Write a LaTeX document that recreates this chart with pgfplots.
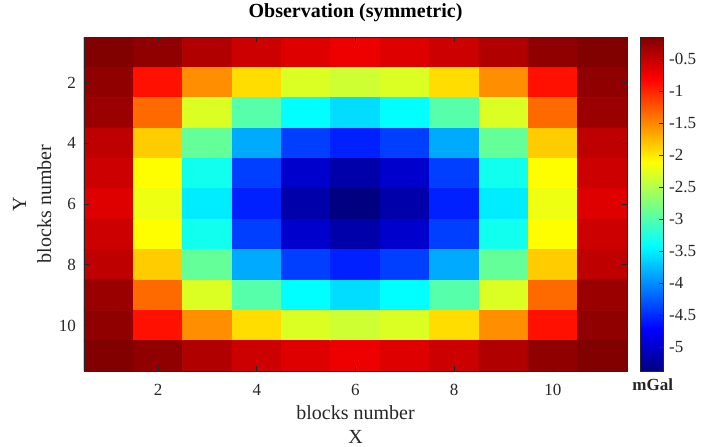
\documentclass[border=0pt]{standalone}
\usepackage{fontspec}
\setmainfont{Liberation Serif}
\usepackage{pgfplots}
\pgfplotsset{compat=1.18}
\definecolor{axgray}{gray}{0.15}

\begin{document}
\begin{tikzpicture}
% fixed page frame around the axis box (axis south west corner at the origin)
\useasboundingbox (-42pt,-37.5pt) rectangle (317pt,185.5pt);
\begin{axis}[
  at={(0,0)}, anchor=south west,
  scale only axis,
  width=271.5pt, height=167pt,
  xmin=0.5, xmax=11.5, ymin=0.5, ymax=11.5,
  enlargelimits=false,
  y dir=reverse,
  axis on top,
  axis line style={axgray, line width=0.4pt},
  tick align=inside,
  major tick length=2.5pt,
  tick style={axgray, line width=0.4pt},
  xtick={2,4,6,8,10}, ytick={2,4,6,8,10},
  xticklabels={2,4,6,8,10}, yticklabels={2,4,6,8,10},
  ticklabel style={font=\fontsize{8.5}{10}\selectfont, text=axgray},
  xticklabel style={yshift=-3pt},
  yticklabel style={xshift=-0.5pt},
  title={Observation (symmetric)},
  title style={font=\bfseries\fontsize{10}{12}\selectfont, yshift=-2pt},
  xlabel={blocks number\\X},
  xlabel style={align=center, font=\fontsize{10}{12}\selectfont, text=axgray, yshift=2pt},
  ylabel={Y\\blocks number},
  ylabel style={align=center, font=\fontsize{10}{12.5}\selectfont, text=axgray, yshift=-3pt},
  colormap/jet,
  point meta min=-5.375, point meta max=-0.156,
  colorbar,
  colorbar style={
    at={(parent axis.north east)}, anchor=north west, xshift=-2pt,
    scale only axis,
    width=11.5pt, height=167pt,
    ytick={-5,-4.5,-4,-3.5,-3,-2.5,-2,-1.5,-1,-0.5},
    yticklabels={-5,-4.5,-4,-3.5,-3,-2.5,-2,-1.5,-1,-0.5},
    yticklabel style={font=\fontsize{8.5}{10}\selectfont, text=axgray, xshift=-0.5pt},
    ytick pos=right,
    tick align=inside,
    major tick length=2pt,
    axis line style={axgray, line width=0.4pt},
    tick style={axgray, line width=0.4pt},
    extra description/.code={
      \node[anchor=center, font=\bfseries\fontsize{8.5}{10}\selectfont, text=axgray]
        at (0.55,-0.04) {mGal};
    },
  },
]
\addplot [matrix plot*, shader=flat corner, mesh/cols=11, mesh/ordering=x varies,
  point meta=explicit] table [meta=c] {
x y c
1 1 -0.16
2 1 -0.24
3 1 -0.40
4 1 -0.55
5 1 -0.64
6 1 -0.72
7 1 -0.64
8 1 -0.55
9 1 -0.40
10 1 -0.24
11 1 -0.16
1 2 -0.24
2 2 -0.89
3 2 -1.54
4 2 -1.94
5 2 -2.29
6 2 -2.37
7 2 -2.29
8 2 -1.94
9 2 -1.54
10 2 -0.89
11 2 -0.24
1 3 -0.29
2 3 -1.35
3 3 -2.29
4 3 -2.98
5 3 -3.42
6 3 -3.59
7 3 -3.42
8 3 -2.98
9 3 -2.29
10 3 -1.35
11 3 -0.29
1 4 -0.48
2 4 -1.85
3 4 -2.90
4 4 -3.85
5 4 -4.40
6 4 -4.56
7 4 -4.40
8 4 -3.85
9 4 -2.90
10 4 -1.85
11 4 -0.48
1 5 -0.55
2 5 -2.11
3 5 -3.33
4 5 -4.40
5 5 -4.98
6 5 -5.16
7 5 -4.98
8 5 -4.40
9 5 -3.33
10 5 -2.11
11 5 -0.55
1 6 -0.64
2 6 -2.20
3 6 -3.51
4 6 -4.56
5 6 -5.16
6 6 -5.375
7 6 -5.16
8 6 -4.56
9 6 -3.51
10 6 -2.20
11 6 -0.64
1 7 -0.55
2 7 -2.11
3 7 -3.33
4 7 -4.40
5 7 -4.98
6 7 -5.16
7 7 -4.98
8 7 -4.40
9 7 -3.33
10 7 -2.11
11 7 -0.55
1 8 -0.48
2 8 -1.85
3 8 -2.90
4 8 -3.85
5 8 -4.40
6 8 -4.56
7 8 -4.40
8 8 -3.85
9 8 -2.90
10 8 -1.85
11 8 -0.48
1 9 -0.29
2 9 -1.35
3 9 -2.29
4 9 -2.98
5 9 -3.42
6 9 -3.59
7 9 -3.42
8 9 -2.98
9 9 -2.29
10 9 -1.35
11 9 -0.29
1 10 -0.24
2 10 -0.89
3 10 -1.54
4 10 -1.94
5 10 -2.29
6 10 -2.37
7 10 -2.29
8 10 -1.94
9 10 -1.54
10 10 -0.89
11 10 -0.24
1 11 -0.16
2 11 -0.24
3 11 -0.40
4 11 -0.55
5 11 -0.64
6 11 -0.72
7 11 -0.64
8 11 -0.55
9 11 -0.40
10 11 -0.24
11 11 -0.16
};
\end{axis}
\end{tikzpicture}
\end{document}
